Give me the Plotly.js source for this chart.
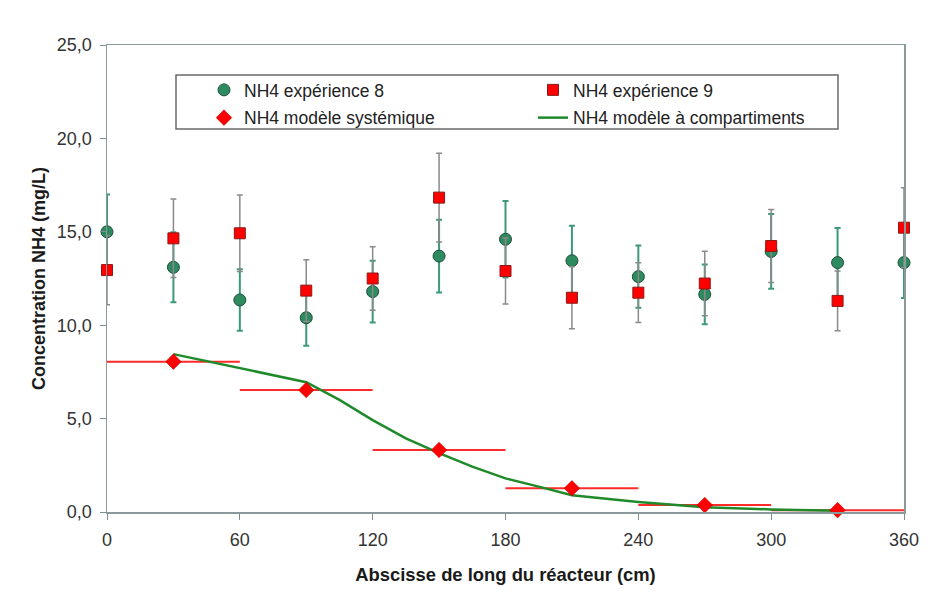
<!DOCTYPE html>
<html>
<head>
<meta charset="utf-8">
<script src="https://cdn.plot.ly/plotly-3.0.1.min.js"></script>
<style>html,body{margin:0;padding:0;background:#fff;}#chart{width:949px;height:594px;}</style>
</head>
<body>
<div id="chart"></div>
<script>
// Positions along the reactor (cm)
const xExp = [0, 30, 60, 90, 120, 150, 180, 210, 240, 270, 300, 330, 360];
// NH4 expérience 8 (mg/L) and its error
const exp8 = [15.0, 13.1, 11.35, 10.4, 11.8, 13.7, 14.6, 13.45, 12.6, 11.65, 13.95, 13.35, 13.35];
const err8 = [2.0, 1.87, 1.65, 1.5, 1.65, 1.95, 2.05, 1.88, 1.66, 1.6, 2.0, 1.85, 1.9];
// NH4 expérience 9 (mg/L) and its error
const exp9 = [12.95, 14.65, 14.92, 11.85, 12.5, 16.83, 12.9, 11.47, 11.74, 12.23, 14.24, 11.3, 15.22];
const err9 = [1.85, 2.1, 2.05, 1.65, 1.7, 2.37, 1.77, 1.66, 1.6, 1.73, 1.96, 1.6, 2.14];
// NH4 modèle systémique: compartment centres, values, half-widths
const xSys = [30, 90, 150, 210, 270, 330];
const ySys = [8.05, 6.53, 3.32, 1.27, 0.37, 0.1];
const halfSys = [30, 30, 30, 30, 30, 30];
// NH4 modèle à compartiments
const xComp = [30, 90, 105, 120, 135, 150, 165, 180, 195, 210, 240, 270, 300, 330];
const yComp = [8.45, 6.95, 6.0, 4.92, 3.94, 3.15, 2.43, 1.8, 1.36, 0.9, 0.54, 0.25, 0.14, 0.07];

const xTicks = [0, 60, 120, 180, 240, 300, 360];
const yTicks = [0, 5, 10, 15, 20, 25];

const FONT = 'Liberation Sans, Arial, sans-serif';
const W = 949, H = 594, L = 107, R = 45, T = 45, B = 82;
const pw = W - L - R, ph = H - T - B;
const px = v => (v - L) / pw;
const py = v => (H - B - v) / ph;

const traces = [
  {
    x: xExp, y: exp8, type: 'scatter', mode: 'markers', name: 'NH4 expérience 8',
    marker: {symbol: 'circle', size: 12, color: '#2e8b5f', line: {color: '#1d4f3a', width: 1}},
    error_y: {type: 'data', array: err8, visible: true, color: '#3c9a78', thickness: 2, width: 3},
    cliponaxis: false, legend: 'legend', legendgroup: 'a', legendrank: 1
  },
  {
    x: xExp, y: exp9, type: 'scatter', mode: 'markers', name: 'NH4 expérience 9',
    marker: {symbol: 'square', size: 11, color: '#ff0000', line: {color: '#8a1a1a', width: 1}},
    error_y: {type: 'data', array: err9, visible: true, color: '#8a8a8a', thickness: 1.5, width: 3},
    cliponaxis: false, legend: 'legend2', legendgroup: 'b', legendrank: 1
  },
  {
    x: xSys, y: ySys, type: 'scatter', mode: 'markers', showlegend: false, hoverinfo: 'skip',
    marker: {size: 2, opacity: 0},
    error_x: {type: 'data', array: halfSys, visible: true, color: '#ff2a2a', thickness: 2, width: 0},
    cliponaxis: false
  },
  {
    x: xComp, y: yComp, type: 'scatter', mode: 'lines', name: 'NH4 modèle à compartiments',
    line: {color: '#1f8a2a', width: 2.5}, legend: 'legend2', legendgroup: 'd', legendrank: 2
  },
  {
    x: xSys, y: ySys, type: 'scatter', mode: 'markers', name: 'NH4 modèle systémique',
    marker: {symbol: 'diamond', size: 12, color: '#ff0000', line: {color: '#b00000', width: 0.5}},
    cliponaxis: false, legend: 'legend', legendgroup: 'c', legendrank: 2
  }
];

const legendBase = {
  orientation: 'v', xanchor: 'left', yanchor: 'top', y: py(72),
  bgcolor: 'rgba(0,0,0,0)', borderwidth: 0,
  font: {family: FONT, size: 17.5, color: '#222222'},
  traceorder: 'grouped', tracegroupgap: 2
};

const layout = {
  width: W, height: H,
  margin: {l: L, r: R, t: T, b: B},
  paper_bgcolor: '#ffffff', plot_bgcolor: '#ffffff',
  separators: ', ',
  font: {family: FONT, size: 17, color: '#333333'},
  showlegend: true,
  legend: Object.assign({}, legendBase, {x: px(204)}),
  legend2: Object.assign({}, legendBase, {x: px(533)}),
  xaxis: {
    range: [0, 360], tickvals: xTicks, ticks: 'outside', ticklen: 6, tickcolor: '#7f8f8f',
    showgrid: false, zeroline: false, showline: true, linecolor: '#8a9a9a', linewidth: 1.5, mirror: true,
    ticklabelstandoff: 5,
    tickfont: {family: FONT, size: 18, color: '#333333'},
    title: {text: '<b>Abscisse de long du réacteur (cm)</b>', font: {family: FONT, size: 18.4, color: '#1a1a1a'}, standoff: 19}
  },
  yaxis: {
    range: [0, 25], tickvals: yTicks, tickformat: '.1f', ticks: 'outside', ticklen: 6, tickcolor: '#7f8f8f',
    showgrid: false, zeroline: false, showline: true, linecolor: '#8a9a9a', linewidth: 1.5, mirror: true,
    ticklabelstandoff: 4,
    tickfont: {family: FONT, size: 18, color: '#333333'},
    title: {text: '<b>Concentration NH4 (mg/L)</b>', font: {family: FONT, size: 18, color: '#1a1a1a'}, standoff: 6}
  },
  shapes: [
    {type: 'rect', xref: 'paper', yref: 'paper', x0: px(176), x1: px(838), y0: py(75), y1: py(129),
     line: {color: '#6a6a6a', width: 1.5}, fillcolor: 'rgba(0,0,0,0)', layer: 'above'}
  ]
};

Plotly.newPlot('chart', traces, layout, {displayModeBar: false, staticPlot: true});
</script>
</body>
</html>
